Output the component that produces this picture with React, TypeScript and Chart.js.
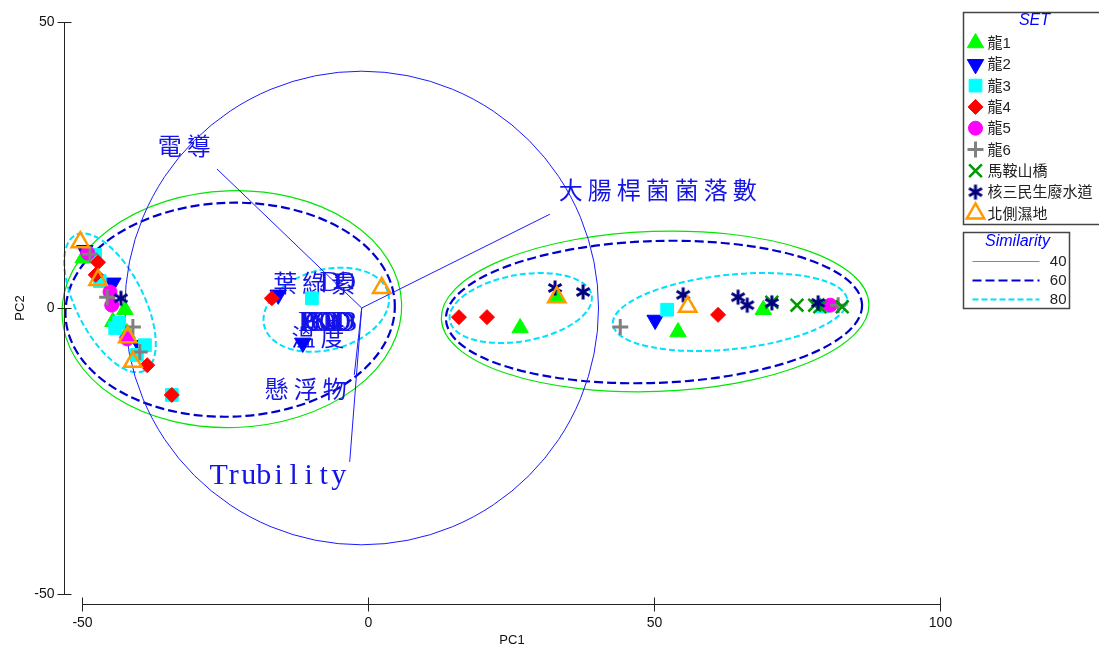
import React, { useEffect, useRef } from 'react';
import { Chart, registerables } from 'chart.js';
import { drawPoint } from 'chart.js/helpers';

Chart.register(...registerables);

// PCA scores for each sampling site group: [PC1, PC2]
const long1: [number, number][] = [[-49.8, 8.7], [-42.5, -0.3], [-44.6, -2.4], [-42.1, -4.4], [26.6, -3.5], [33.0, 2.1], [54.2, -4.2], [69.1, -0.3]];
const long2: [number, number][] = [[-49.5, 10.1], [-44.6, 4.4], [-39.9, -6.5], [-15.7, 2.3], [-11.4, -6.1], [50.2, -2.1]];
const long3: [number, number][] = [[-47.7, 9.3], [-46.9, 4.7], [-43.5, -2.6], [-44.2, -3.5], [-39.0, -6.5], [-40.4, -8.2], [-34.3, -15.2], [-9.8, 1.7], [52.3, -0.3], [79.5, 0.3]];
const long4: [number, number][] = [[-47.2, 8.0], [-47.6, 5.8], [-38.6, -10.0], [-34.3, -15.2], [-16.8, 1.7], [15.9, -1.6], [20.8, -1.6], [61.2, -1.2]];
const long5: [number, number][] = [[-49.0, 9.6], [-45.1, 2.8], [-44.8, 0.5], [-42.1, -5.4], [80.8, 0.5]];
const long6: [number, number][] = [[-48.6, 9.4], [-45.6, 1.9], [-41.1, -3.3], [-39.9, -7.7], [44.1, -3.3], [82.2, 0.5]];
const maanshan: [number, number][] = [[70.6, 1.0], [75.0, 0.5], [78.1, 0.5], [79.0, 0.2], [82.9, 0.2]];
const heSan: [number, number][] = [[-43.2, 1.7], [32.7, 3.5], [37.6, 2.8], [55.1, 2.3], [64.7, 1.9], [66.3, 0.5], [70.6, 0.9], [78.7, 0.9]];
const northWet: [number, number][] = [[-50.3, 11.5], [-47.2, 4.9], [-42.0, -5.1], [-41.1, -9.4], [2.4, 3.5], [33.0, 1.9], [55.9, 0.2]];

const seriesNames = ['龍1', '龍2', '龍3', '龍4', '龍5', '龍6', '馬鞍山橋', '核三民生廢水道', '北側濕地'];
const seriesData = [long1, long2, long3, long4, long5, long6, maanshan, heSan, northWet];

// axis ticks
const pc1Ticks = [-50, 0, 50, 100];
const pc2Ticks = [-50, 0, 50];

// similarity contours: [level, centre PC1, centre PC2, semi-axis a, semi-axis b, rotation deg]
const contours: [number, number, number, number, number, number][] = [
  [40, -23.8, -0.2, 29.7, 20.7, 2],
  [60, -24.1, -0.3, 28.8, 18.7, 2],
  [80, -45.1, 0.9, 13.3, 5.9, -63],
  [80, -7.3, -0.3, 11.2, 7.0, 15],
  [40, 50.2, -0.6, 37.4, 14.0, 2],
  [60, 50.0, -0.7, 36.4, 12.4, 2],
  [80, 26.7, 0.0, 12.6, 5.8, 10],
  [80, 63.3, -0.7, 20.6, 6.5, 6],
];
const similarityLevels = [40, 60, 80];

// variable vectors (loadings) and correlation circle
const vectorOrigin: [number, number] = [-1.1, 0];
const circleRadius = 41.4;
const vectorEndX = [-26.4, 31.8, -3.2, -2.4];
const vectorEndY = [24.3, 16.4, -26.9, -11.7];

// variable labels, anchored at left edge / vertical centre
const labelText = ['電導', '大腸桿菌菌落數', '葉綠素', 'DO', '溫度', 'PO4', 'BOD', 'COD', 'NH3', '懸浮物', 'Trubility'];
const labelX = [-37.2, 32.9, -17.0, -7.9, -13.8, -12.1, -11.4, -10.7, -9.8, -18.5, -27.4];
const labelY = [28.3, 20.6, 4.4, 4.4, -5.1, -2.6, -2.6, -2.6, -2.6, -14.2, -29.4];

const SANS = '"Liberation Sans", Arial, "Noto Sans CJK TC", sans-serif';
const LABEL_BLUE = '#1414e8';

function makeAsterisk(color: string): HTMLCanvasElement {
  const c = document.createElement('canvas');
  c.width = 18;
  c.height = 18;
  const g = c.getContext('2d')!;
  g.strokeStyle = color;
  g.lineWidth = 3;
  g.lineCap = 'butt';
  const r = 7.5;
  for (const deg of [90, 30, 150]) {
    const a = (deg * Math.PI) / 180;
    g.beginPath();
    g.moveTo(9 - Math.cos(a) * r, 9 - Math.sin(a) * r);
    g.lineTo(9 + Math.cos(a) * r, 9 + Math.sin(a) * r);
    g.stroke();
  }
  return c;
}

type Marker = { pointStyle: any; rotation: number; radius: number; fill: string; stroke: string; borderWidth: number };

function buildMarkers(star: HTMLCanvasElement): Marker[] {
  return [
    { pointStyle: 'triangle', rotation: 0, radius: 9.5, fill: '#00ff00', stroke: '#00ff00', borderWidth: 1 },
    { pointStyle: 'triangle', rotation: 180, radius: 9.5, fill: '#0000ff', stroke: '#0000ff', borderWidth: 1 },
    { pointStyle: 'rect', rotation: 0, radius: 9, fill: '#00ffff', stroke: '#00ffff', borderWidth: 1 },
    { pointStyle: 'rectRot', rotation: 0, radius: 7.5, fill: '#ff0000', stroke: '#ff0000', borderWidth: 1 },
    { pointStyle: 'circle', rotation: 0, radius: 7, fill: '#ff00ff', stroke: '#ff00ff', borderWidth: 1 },
    { pointStyle: 'cross', rotation: 0, radius: 8, fill: '#808080', stroke: '#808080', borderWidth: 3 },
    { pointStyle: 'crossRot', rotation: 0, radius: 9, fill: '#009a00', stroke: '#009a00', borderWidth: 2.5 },
    { pointStyle: star, rotation: 0, radius: 9, fill: '#000080', stroke: '#000080', borderWidth: 0 },
    { pointStyle: 'triangle', rotation: 0, radius: 10, fill: 'rgba(0,0,0,0)', stroke: '#ff9900', borderWidth: 2.5 },
  ];
}

const contourStyle: Record<number, { color: string; width: number; dash: number[] }> = {
  40: { color: '#00e600', width: 1.2, dash: [] },
  60: { color: '#0000cc', width: 2.2, dash: [9, 4] },
  80: { color: '#00e0ff', width: 2, dash: [6, 3] },
};

function drawLabel(ctx: CanvasRenderingContext2D, text: string, x: number, y: number) {
  let cx = x;
  ctx.textBaseline = 'middle';
  ctx.textAlign = 'center';
  for (const ch of text) {
    const cjk = ch.charCodeAt(0) > 0x2e80;
    const pitch = cjk ? 29 : 15;
    ctx.font = cjk ? '24px "Noto Sans CJK TC", sans-serif' : '30px "Liberation Serif", serif';
    ctx.fillText(ch, cx + pitch / 2, y);
    cx += pitch;
  }
}

function makeOverlay(markers: Marker[]) {
  return {
    id: 'pcaOverlay',
    beforeDatasetsDraw(chart: any) {
      const { ctx } = chart;
      const xs = chart.scales.x;
      const ys = chart.scales.y;
      const ux = xs.getPixelForValue(1) - xs.getPixelForValue(0);
      const uy = ys.getPixelForValue(0) - ys.getPixelForValue(1);
      ctx.save();
      // similarity contours
      contours.forEach(([level, cx, cy, a, b, rot]) => {
        const st = contourStyle[level];
        ctx.beginPath();
        ctx.ellipse(xs.getPixelForValue(cx), ys.getPixelForValue(cy), a * ux, b * uy, (-rot * Math.PI) / 180, 0, Math.PI * 2);
        ctx.strokeStyle = st.color;
        ctx.lineWidth = st.width;
        ctx.setLineDash(st.dash);
        ctx.stroke();
      });
      ctx.setLineDash([]);
      // correlation circle and vectors
      const ox = xs.getPixelForValue(vectorOrigin[0]);
      const oy = ys.getPixelForValue(vectorOrigin[1]);
      ctx.strokeStyle = '#1a1aff';
      ctx.lineWidth = 1;
      ctx.beginPath();
      ctx.arc(ox, oy, circleRadius * ux, 0, Math.PI * 2);
      ctx.stroke();
      vectorEndX.forEach((vx, i) => {
        ctx.beginPath();
        ctx.moveTo(ox, oy);
        ctx.lineTo(xs.getPixelForValue(vx), ys.getPixelForValue(vectorEndY[i]));
        ctx.stroke();
      });
      // variable labels
      ctx.fillStyle = LABEL_BLUE;
      labelText.forEach((t, i) => {
        drawLabel(ctx, t, xs.getPixelForValue(labelX[i]), ys.getPixelForValue(labelY[i]));
      });
      ctx.restore();
    },
    afterDraw(chart: any) {
      const { ctx, chartArea } = chart;
      const xs = chart.scales.x;
      const ys = chart.scales.y;
      ctx.save();
      ctx.strokeStyle = '#222';
      ctx.fillStyle = '#111';
      ctx.lineWidth = 1;
      // PC2 axis, set off to the left of the plot
      const ax = Math.round(chartArea.left - 18) + 0.5;
      ctx.beginPath();
      ctx.moveTo(ax, ys.getPixelForValue(50));
      ctx.lineTo(ax, ys.getPixelForValue(-50));
      ctx.stroke();
      ctx.font = '14px ' + SANS;
      ctx.textAlign = 'right';
      ctx.textBaseline = 'middle';
      pc2Ticks.forEach((t) => {
        const py = Math.round(ys.getPixelForValue(t)) + 0.5;
        ctx.beginPath();
        ctx.moveTo(ax - 7, py);
        ctx.lineTo(ax + 7, py);
        ctx.stroke();
        ctx.fillText(String(t), ax - 10, py);
      });
      // PC1 axis, set off below the plot
      const ay = Math.round(chartArea.bottom + 10) + 0.5;
      ctx.beginPath();
      ctx.moveTo(xs.getPixelForValue(-50), ay);
      ctx.lineTo(xs.getPixelForValue(100), ay);
      ctx.stroke();
      ctx.textAlign = 'center';
      pc1Ticks.forEach((t) => {
        const px = Math.round(xs.getPixelForValue(t)) + 0.5;
        ctx.beginPath();
        ctx.moveTo(px, ay - 7);
        ctx.lineTo(px, ay + 7);
        ctx.stroke();
        ctx.fillText(String(t), px, ay + 19);
      });
      ctx.font = '13px ' + SANS;
      ctx.fillText('PC1', (xs.getPixelForValue(-50) + xs.getPixelForValue(100)) / 2 + 1, ay + 36);
      ctx.save();
      ctx.translate(20, ys.getPixelForValue(0));
      ctx.rotate(-Math.PI / 2);
      ctx.fillText('PC2', 0, 0);
      ctx.restore();

      // SET legend
      const lx = chartArea.right + 23.5;
      ctx.strokeStyle = '#444';
      ctx.lineWidth = 1.5;
      ctx.strokeRect(lx, 12.5, 150, 212);
      ctx.fillStyle = '#0000ff';
      ctx.font = 'italic 16px ' + SANS;
      ctx.textAlign = 'center';
      ctx.fillText('SET', lx + 71, 21);
      seriesNames.forEach((name, i) => {
        const m = markers[i];
        const yy = 43 + i * 21.3;
        ctx.fillStyle = m.fill;
        ctx.strokeStyle = m.stroke;
        ctx.lineWidth = m.borderWidth;
        drawPoint(ctx, { pointStyle: m.pointStyle, rotation: m.rotation, radius: m.radius, borderWidth: m.borderWidth } as any, lx + 12, yy);
        ctx.fillStyle = '#222';
        ctx.font = '15px ' + SANS;
        ctx.textAlign = 'left';
        ctx.fillText(name, lx + 24, yy + 1);
      });

      // Similarity legend
      ctx.strokeStyle = '#444';
      ctx.lineWidth = 1.5;
      ctx.strokeRect(lx, 232.5, 106, 76);
      ctx.fillStyle = '#0000ff';
      ctx.font = 'italic 16px ' + SANS;
      ctx.textAlign = 'center';
      ctx.fillText('Similarity', lx + 54, 242);
      similarityLevels.forEach((lv, i) => {
        const st = contourStyle[lv];
        const yy = 261.5 + i * 19;
        ctx.strokeStyle = st.color;
        ctx.lineWidth = st.width;
        ctx.setLineDash(st.dash);
        ctx.beginPath();
        ctx.moveTo(lx + 9, yy);
        ctx.lineTo(lx + 76, yy);
        ctx.stroke();
        ctx.setLineDash([]);
        ctx.fillStyle = '#222';
        ctx.font = '15px ' + SANS;
        ctx.textAlign = 'right';
        ctx.fillText(String(lv), lx + 103, yy);
      });
      ctx.restore();
    },
  };
}

export default function App() {
  const ref = useRef<HTMLCanvasElement>(null);
  useEffect(() => {
    const star = makeAsterisk('#000080');
    const markers = buildMarkers(star);
    const n = seriesNames.length;
    const chart = new Chart(ref.current!, {
      type: 'scatter',
      data: {
        datasets: seriesNames.map((name, i) => ({
          label: name,
          data: seriesData[i].map(([x, y]) => ({ x, y })),
          pointStyle: markers[i].pointStyle,
          rotation: markers[i].rotation,
          pointRadius: markers[i].radius,
          pointBackgroundColor: markers[i].fill,
          pointBorderColor: markers[i].stroke,
          pointBorderWidth: markers[i].borderWidth,
          order: n - i,
          clip: false as any,
        })),
      },
      options: {
        animation: false,
        responsive: true,
        maintainAspectRatio: false,
        layout: { padding: { left: 82, right: 159, top: 22, bottom: 52 } },
        scales: {
          x: { type: 'linear', min: -50, max: 100, display: false },
          y: { type: 'linear', min: -50, max: 50, display: false },
        },
        plugins: { legend: { display: false }, tooltip: { enabled: false } },
      },
      plugins: [makeOverlay(markers)],
    });
    return () => chart.destroy();
  }, []);
  return (
    <div style={{ position: 'fixed', left: 0, top: 0, width: 1099, height: 646, background: '#fff' }}>
      <canvas ref={ref} />
    </div>
  );
}
